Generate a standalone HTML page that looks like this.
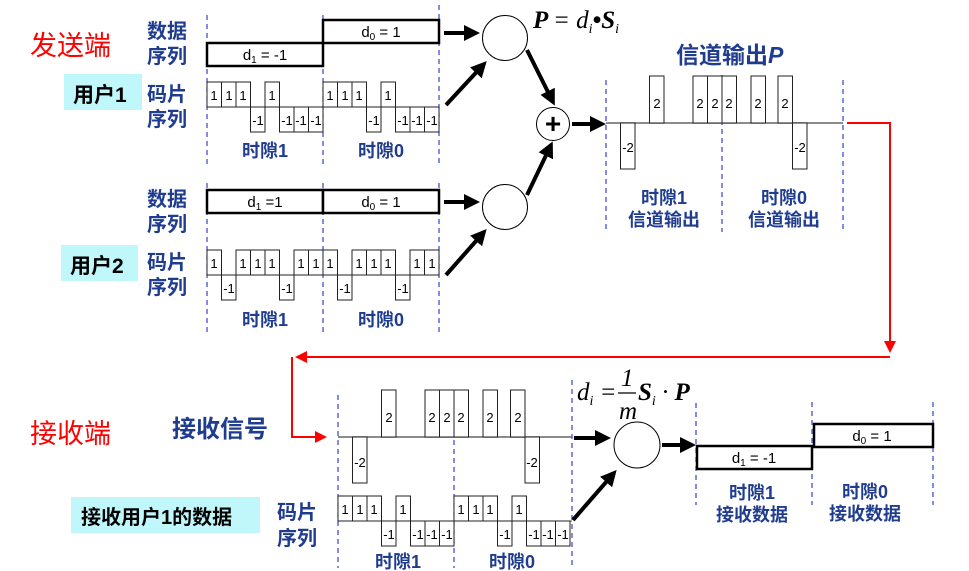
<!DOCTYPE html>
<html><head><meta charset="utf-8"><style>
html,body{margin:0;padding:0;background:#fff;}
svg{display:block;}
.b{font-family:"Liberation Sans","Noto Sans CJK SC",sans-serif;font-weight:bold;fill:#1f3c8f;}
.r{font-family:"Liberation Sans","Noto Sans CJK SC",sans-serif;fill:#ff0000;}
.k{font-family:"Liberation Sans","Noto Sans CJK SC",sans-serif;font-weight:bold;fill:#000;}
.c{font-family:"Liberation Sans",sans-serif;font-size:13px;fill:#000;text-anchor:middle;}
.d{font-family:"Liberation Sans",sans-serif;font-size:15px;fill:#000;text-anchor:middle;}
.f{font-family:"Liberation Serif",serif;font-style:italic;font-size:25px;fill:#000;}
.ch{fill:#fff;stroke:#222;stroke-width:1;}
.dl{stroke:#3344cc;stroke-width:1.2;stroke-dasharray:5,4;}
.bx{fill:#fff;stroke:#000;stroke-width:2.5;}
.ar{stroke:#000;stroke-width:4;marker-end:url(#ah);}
</style></head><body>
<svg width="969" height="571" viewBox="0 0 969 571" xmlns="http://www.w3.org/2000/svg">
<defs>
<marker id="ah" markerWidth="4" markerHeight="4" refX="3" refY="2" orient="auto" markerUnits="strokeWidth"><path d="M0,0 L4,2 L0,4 z" fill="#000"/></marker>
<marker id="rh" markerWidth="6" markerHeight="6" refX="5" refY="3" orient="auto" markerUnits="strokeWidth"><path d="M0,0 L6,3 L0,6 z" fill="#f00"/></marker>
</defs>

<text class="r" x="30" y="55" font-size="27">发送端</text>
<rect x="64" y="74" width="78" height="36" fill="#bff7fb"/>
<text class="k" x="73" y="102" font-size="21">用户1</text>
<rect x="61" y="245" width="77" height="36" fill="#bff7fb"/>
<text class="k" x="70" y="273" font-size="21">用户2</text>
<text class="r" x="30" y="443" font-size="27">接收端</text>
<text class="b" x="172" y="437" font-size="24">接收信号</text>
<rect x="71" y="497" width="189" height="36" fill="#bff7fb"/>
<text class="k" x="81" y="524" font-size="20">接收用户1的数据</text>

<text class="b" x="147" y="38" font-size="20">数据</text>
<text class="b" x="147" y="63" font-size="20">序列</text>
<text class="b" x="147" y="101" font-size="20">码片</text>
<text class="b" x="147" y="126" font-size="20">序列</text>
<text class="b" x="147" y="206" font-size="20">数据</text>
<text class="b" x="147" y="231" font-size="20">序列</text>
<text class="b" x="147" y="269" font-size="20">码片</text>
<text class="b" x="147" y="294" font-size="20">序列</text>

<line class="dl" x1="207" y1="15" x2="207" y2="165"/><line class="dl" x1="323" y1="15" x2="323" y2="165"/><line class="dl" x1="439" y1="5" x2="439" y2="165"/>
<line class="dl" x1="207" y1="183" x2="207" y2="333"/><line class="dl" x1="323" y1="183" x2="323" y2="333"/><line class="dl" x1="439" y1="183" x2="439" y2="333"/>

<rect class="bx" x="207" y="43" width="116" height="23"/><text class="d" x="265" y="60">d<tspan font-size="10" dy="3">1</tspan><tspan dy="-3"> = -1</tspan></text>
<rect class="bx" x="323" y="20" width="116" height="23"/><text class="d" x="381" y="37">d<tspan font-size="10" dy="3">0</tspan><tspan dy="-3"> = 1</tspan></text>
<rect class="bx" x="207" y="190" width="116" height="23"/><text class="d" x="265" y="207">d<tspan font-size="10" dy="3">1</tspan><tspan dy="-3"> =1</tspan></text>
<rect class="bx" x="323" y="190" width="116" height="23"/><text class="d" x="381" y="207">d<tspan font-size="10" dy="3">0</tspan><tspan dy="-3"> = 1</tspan></text>

<line x1="207" y1="107" x2="439" y2="107" stroke="#555"/>
<g>
<rect class="ch" x="207" y="82" width="14.5" height="25"/><text class="c" x="214" y="100">1</text>
<rect class="ch" x="221.5" y="82" width="14.5" height="25"/><text class="c" x="229" y="100">1</text>
<rect class="ch" x="236" y="82" width="14.5" height="25"/><text class="c" x="243" y="100">1</text>
<rect class="ch" x="250.5" y="107" width="14.5" height="25"/><text class="c" x="258" y="125">-1</text>
<rect class="ch" x="265" y="82" width="14.5" height="25"/><text class="c" x="272" y="100">1</text>
<rect class="ch" x="279.5" y="107" width="14.5" height="25"/><text class="c" x="287" y="125">-1</text>
<rect class="ch" x="294" y="107" width="14.5" height="25"/><text class="c" x="301" y="125">-1</text>
<rect class="ch" x="308.5" y="107" width="14.5" height="25"/><text class="c" x="316" y="125">-1</text>
<rect class="ch" x="323" y="82" width="14.5" height="25"/><text class="c" x="330" y="100">1</text>
<rect class="ch" x="337.5" y="82" width="14.5" height="25"/><text class="c" x="345" y="100">1</text>
<rect class="ch" x="352" y="82" width="14.5" height="25"/><text class="c" x="359" y="100">1</text>
<rect class="ch" x="366.5" y="107" width="14.5" height="25"/><text class="c" x="374" y="125">-1</text>
<rect class="ch" x="381" y="82" width="14.5" height="25"/><text class="c" x="388" y="100">1</text>
<rect class="ch" x="395.5" y="107" width="14.5" height="25"/><text class="c" x="403" y="125">-1</text>
<rect class="ch" x="410" y="107" width="14.5" height="25"/><text class="c" x="417" y="125">-1</text>
<rect class="ch" x="424.5" y="107" width="14.5" height="25"/><text class="c" x="432" y="125">-1</text>
</g>
<text class="b" x="265" y="157" font-size="18" text-anchor="middle">时隙1</text>
<text class="b" x="381" y="157" font-size="18" text-anchor="middle">时隙0</text>

<line x1="207" y1="275" x2="439" y2="275" stroke="#555"/>
<g>
<rect class="ch" x="207" y="250" width="14.5" height="25"/><text class="c" x="214" y="268">1</text>
<rect class="ch" x="221.5" y="275" width="14.5" height="25"/><text class="c" x="229" y="293">-1</text>
<rect class="ch" x="236" y="250" width="14.5" height="25"/><text class="c" x="243" y="268">1</text>
<rect class="ch" x="250.5" y="250" width="14.5" height="25"/><text class="c" x="258" y="268">1</text>
<rect class="ch" x="265" y="250" width="14.5" height="25"/><text class="c" x="272" y="268">1</text>
<rect class="ch" x="279.5" y="275" width="14.5" height="25"/><text class="c" x="287" y="293">-1</text>
<rect class="ch" x="294" y="250" width="14.5" height="25"/><text class="c" x="301" y="268">1</text>
<rect class="ch" x="308.5" y="250" width="14.5" height="25"/><text class="c" x="316" y="268">1</text>
<rect class="ch" x="323" y="250" width="14.5" height="25"/><text class="c" x="330" y="268">1</text>
<rect class="ch" x="337.5" y="275" width="14.5" height="25"/><text class="c" x="345" y="293">-1</text>
<rect class="ch" x="352" y="250" width="14.5" height="25"/><text class="c" x="359" y="268">1</text>
<rect class="ch" x="366.5" y="250" width="14.5" height="25"/><text class="c" x="374" y="268">1</text>
<rect class="ch" x="381" y="250" width="14.5" height="25"/><text class="c" x="388" y="268">1</text>
<rect class="ch" x="395.5" y="275" width="14.5" height="25"/><text class="c" x="403" y="293">-1</text>
<rect class="ch" x="410" y="250" width="14.5" height="25"/><text class="c" x="417" y="268">1</text>
<rect class="ch" x="424.5" y="250" width="14.5" height="25"/><text class="c" x="432" y="268">1</text>
</g>
<text class="b" x="265" y="326" font-size="18" text-anchor="middle">时隙1</text>
<text class="b" x="381" y="326" font-size="18" text-anchor="middle">时隙0</text>

<circle cx="505" cy="38" r="22.5" fill="#fff" stroke="#000"/>
<circle cx="505" cy="207" r="22.5" fill="#fff" stroke="#000"/>
<circle cx="553" cy="124" r="16.5" fill="#fff" stroke="#000"/>
<text x="553" y="133" font-family="Liberation Sans" font-size="28" font-weight="bold" text-anchor="middle">+</text>
<line class="ar" x1="444" y1="33" x2="476" y2="33"/>
<line class="ar" x1="446" y1="105" x2="484" y2="64"/>
<line class="ar" x1="527" y1="50" x2="553" y2="102"/>
<line class="ar" x1="527" y1="195" x2="551" y2="145"/>
<line class="ar" x1="444" y1="202" x2="476" y2="202"/>
<line class="ar" x1="446" y1="275" x2="484" y2="232"/>
<line class="ar" x1="572" y1="124" x2="602" y2="124"/>
<text class="f" x="533" y="28" font-weight="bold">P</text><text class="f" x="553" y="28">= d<tspan font-size="14" dy="5">i</tspan><tspan dy="-5" font-weight="bold">•S</tspan><tspan font-size="14" dy="5">i</tspan></text>

<text class="b" x="676" y="63" font-size="23">信道输出<tspan font-style="italic">P</tspan></text>
<line class="dl" x1="606" y1="80" x2="606" y2="232"/><line class="dl" x1="722" y1="75" x2="722" y2="232"/><line class="dl" x1="843" y1="80" x2="843" y2="232"/>
<line x1="606" y1="123" x2="843" y2="123" stroke="#666" stroke-width="1.5"/>
<rect class="ch" x="620.5" y="123" width="14.5" height="46"/><text class="c" x="628" y="152" font-size="14">-2</text>
<rect class="ch" x="649.5" y="76" width="14.5" height="47"/><text class="c" x="657" y="108" font-size="14">2</text>
<rect class="ch" x="693" y="76" width="14.5" height="47"/><text class="c" x="700" y="108" font-size="14">2</text>
<rect class="ch" x="707.5" y="76" width="14.5" height="47"/><text class="c" x="715" y="108" font-size="14">2</text>
<rect class="ch" x="722" y="76" width="14.5" height="47"/><text class="c" x="729" y="108" font-size="14">2</text>
<rect class="ch" x="751" y="76" width="14.5" height="47"/><text class="c" x="758" y="108" font-size="14">2</text>
<rect class="ch" x="778" y="76" width="14.5" height="47"/><text class="c" x="785" y="108" font-size="14">2</text>
<rect class="ch" x="792.5" y="123" width="14.5" height="46"/><text class="c" x="800" y="152" font-size="14">-2</text>
<text class="b" x="664" y="204" font-size="18" text-anchor="middle">时隙1</text>
<text class="b" x="664" y="226" font-size="18" text-anchor="middle">信道输出</text>
<text class="b" x="784" y="204" font-size="18" text-anchor="middle">时隙0</text>
<text class="b" x="784" y="226" font-size="18" text-anchor="middle">信道输出</text>

<polyline points="847,123 890,123 890,351" fill="none" stroke="#f00" stroke-width="2" marker-end="url(#rh)"/>
<polyline points="890,357 297,357" fill="none" stroke="#f00" stroke-width="2" marker-end="url(#rh)"/>
<polyline points="292,357 292,437 325,437" fill="none" stroke="#f00" stroke-width="2" marker-end="url(#rh)"/>

<line class="dl" x1="338" y1="395" x2="338" y2="568"/><line class="dl" x1="454" y1="395" x2="454" y2="568"/><line class="dl" x1="572" y1="380" x2="572" y2="568"/>
<line x1="338" y1="437" x2="572" y2="437" stroke="#666" stroke-width="1.5"/>
<rect class="ch" x="352.5" y="437" width="14.5" height="46"/><text class="c" x="360" y="467" font-size="14">-2</text>
<rect class="ch" x="381.5" y="390" width="14.5" height="47"/><text class="c" x="389" y="422" font-size="14">2</text>
<rect class="ch" x="425" y="390" width="14.5" height="47"/><text class="c" x="432" y="422" font-size="14">2</text>
<rect class="ch" x="439.5" y="390" width="14.5" height="47"/><text class="c" x="447" y="422" font-size="14">2</text>
<rect class="ch" x="454" y="390" width="14.5" height="47"/><text class="c" x="461" y="422" font-size="14">2</text>
<rect class="ch" x="483" y="390" width="14.5" height="47"/><text class="c" x="490" y="422" font-size="14">2</text>
<rect class="ch" x="510.5" y="390" width="14.5" height="47"/><text class="c" x="518" y="422" font-size="14">2</text>
<rect class="ch" x="525" y="437" width="14.5" height="46"/><text class="c" x="532" y="467" font-size="14">-2</text>

<text class="b" x="277" y="519" font-size="20">码片</text>
<text class="b" x="277" y="545" font-size="20">序列</text>
<line x1="338" y1="521" x2="572" y2="521" stroke="#555"/>
<g>
<rect class="ch" x="338" y="496" width="14.5" height="25"/><text class="c" x="345" y="514">1</text>
<rect class="ch" x="352.5" y="496" width="14.5" height="25"/><text class="c" x="360" y="514">1</text>
<rect class="ch" x="367" y="496" width="14.5" height="25"/><text class="c" x="374" y="514">1</text>
<rect class="ch" x="381.5" y="521" width="14.5" height="25"/><text class="c" x="389" y="539">-1</text>
<rect class="ch" x="396" y="496" width="14.5" height="25"/><text class="c" x="403" y="514">1</text>
<rect class="ch" x="410.5" y="521" width="14.5" height="25"/><text class="c" x="418" y="539">-1</text>
<rect class="ch" x="425" y="521" width="14.5" height="25"/><text class="c" x="432" y="539">-1</text>
<rect class="ch" x="439.5" y="521" width="14.5" height="25"/><text class="c" x="447" y="539">-1</text>
<rect class="ch" x="454" y="496" width="14.5" height="25"/><text class="c" x="461" y="514">1</text>
<rect class="ch" x="468.5" y="496" width="14.5" height="25"/><text class="c" x="476" y="514">1</text>
<rect class="ch" x="483" y="496" width="14.5" height="25"/><text class="c" x="490" y="514">1</text>
<rect class="ch" x="497.5" y="521" width="14.5" height="25"/><text class="c" x="505" y="539">-1</text>
<rect class="ch" x="512" y="496" width="14.5" height="25"/><text class="c" x="519" y="514">1</text>
<rect class="ch" x="526.5" y="521" width="14.5" height="25"/><text class="c" x="534" y="539">-1</text>
<rect class="ch" x="541" y="521" width="14.5" height="25"/><text class="c" x="548" y="539">-1</text>
<rect class="ch" x="555.5" y="521" width="14.5" height="25"/><text class="c" x="563" y="539">-1</text>
</g>
<text class="b" x="398" y="568" font-size="18" text-anchor="middle">时隙1</text>
<text class="b" x="512" y="568" font-size="18" text-anchor="middle">时隙0</text>

<text class="f" x="577" y="400">d<tspan font-size="14" dy="5">i</tspan><tspan dy="-5"> =</tspan></text>
<line x1="618" y1="393" x2="636" y2="393" stroke="#000" stroke-width="1.2"/>
<text class="f" x="621" y="386" font-style="normal">1</text>
<text class="f" x="619" y="419">m</text>
<text class="f" x="638" y="400" font-weight="bold">S<tspan font-size="14" dy="5" font-weight="normal">i</tspan><tspan dy="-5" font-weight="normal"> · </tspan>P</text>
<circle cx="637" cy="445" r="23" fill="#fff" stroke="#000"/>
<line class="ar" x1="574" y1="438" x2="607" y2="438"/>
<line class="ar" x1="573" y1="520" x2="614" y2="473"/>
<line class="ar" x1="662" y1="445" x2="692" y2="445"/>

<line class="dl" x1="696" y1="403" x2="696" y2="505"/><line class="dl" x1="812" y1="402" x2="812" y2="505"/><line class="dl" x1="933" y1="402" x2="933" y2="505"/>
<rect class="bx" x="697" y="446" width="115" height="23"/><text class="d" x="754" y="463">d<tspan font-size="10" dy="3">1</tspan><tspan dy="-3"> = -1</tspan></text>
<rect class="bx" x="814" y="424" width="119" height="23"/><text class="d" x="872" y="441">d<tspan font-size="10" dy="3">0</tspan><tspan dy="-3"> = 1</tspan></text>
<text class="b" x="752" y="499" font-size="18" text-anchor="middle">时隙1</text>
<text class="b" x="752" y="521" font-size="18" text-anchor="middle">接收数据</text>
<text class="b" x="865" y="498" font-size="18" text-anchor="middle">时隙0</text>
<text class="b" x="865" y="520" font-size="18" text-anchor="middle">接收数据</text>
</svg>
</body></html>
